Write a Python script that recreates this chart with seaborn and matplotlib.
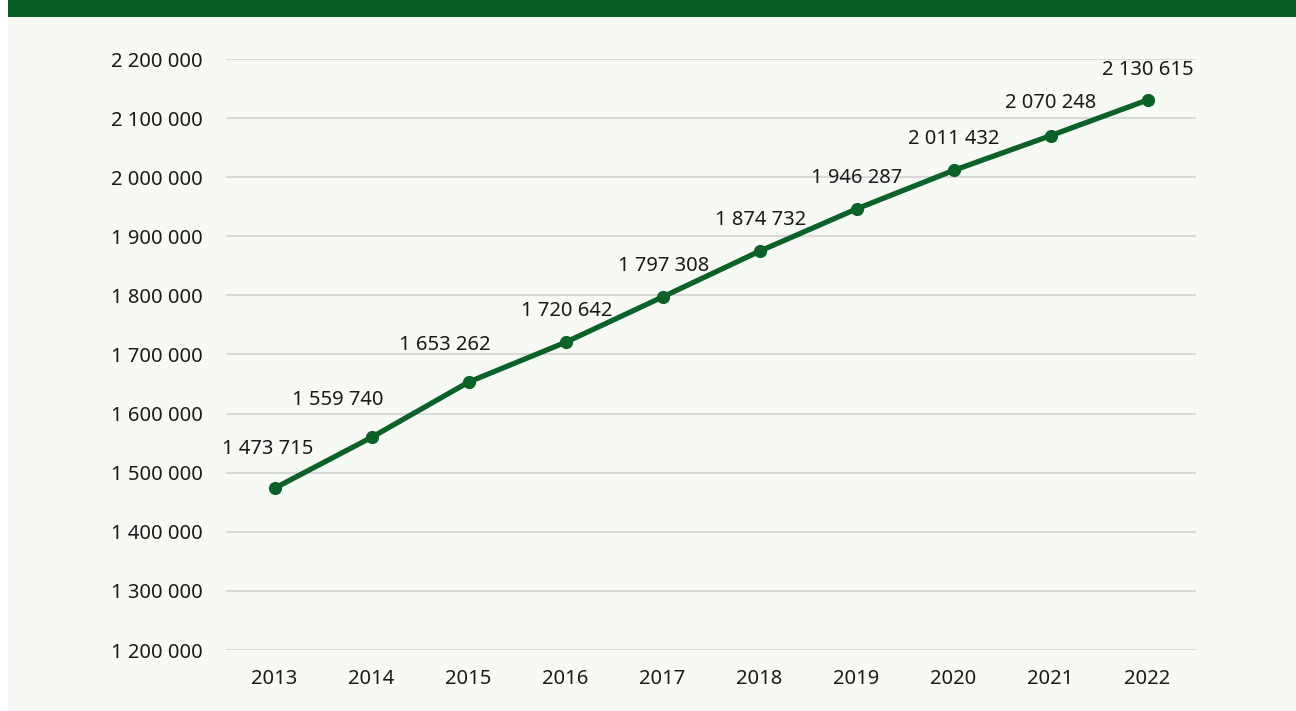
import matplotlib
matplotlib.use('Agg')
import matplotlib.pyplot as plt
import seaborn as sns
import pandas as pd
from matplotlib.patches import Rectangle
from matplotlib.ticker import FuncFormatter

years = ['2013', '2014', '2015', '2016', '2017', '2018', '2019', '2020', '2021', '2022']
values = [1473715, 1559740, 1653262, 1720642, 1797308, 1874732, 1946287, 2011432, 2070248, 2130615]

# label offsets in pixels (dx, dy)
label_dx = [-7, -34, -24, 1, 1, 1, 0, 0, 0, 0]
label_dy = [39, 37, 37, 31, 31, 31, 31, 31, 33, 30]

bg = '#f7f9f5'
green = '#0b6128'

sns.set_style("white")
plt.rcParams['font.family'] = ['Noto Sans', 'DejaVu Sans']

df = pd.DataFrame({'year': years, 'value': values})

fig = plt.figure(figsize=(12.96, 7.11), dpi=100, facecolor=bg)
fig.patches.append(Rectangle((0, 0), 8 / 1296, 1, transform=fig.transFigure,
                             facecolor='white', edgecolor='none', zorder=0))
fig.patches.append(Rectangle((8 / 1296, 1 - 17 / 711), 1, 17 / 711, transform=fig.transFigure,
                             facecolor='#075e22', edgecolor='none', zorder=1))

ax = fig.add_axes([226 / 1296, 61 / 711, 970 / 1296, 591 / 711])
ax.set_facecolor(bg)

sns.lineplot(data=df, x='year', y='value', ax=ax, color=green, linewidth=3.8,
             marker='o', markersize=9.5, markeredgewidth=0, sort=False, zorder=3)

ax.set_xlim(-0.5, 9.5)
ax.set_ylim(1200000, 2200000)
ax.set_yticks(range(1200000, 2200001, 100000))
ax.yaxis.set_major_formatter(FuncFormatter(lambda v, p: f'{int(v):,}'.replace(',', ' ')))
ax.grid(True, axis='y', color='#d9d9d9', linewidth=1.5)
ax.grid(False, axis='x')
ax.set_axisbelow(True)
for s in ax.spines.values():
    s.set_visible(False)
ax.tick_params(axis='both', length=0, labelsize=14.5, colors='#1a1a1a')
ax.tick_params(axis='y', pad=17)
ax.tick_params(axis='x', pad=14)
ax.set_xlabel('')
ax.set_ylabel('')

for i, v in enumerate(values):
    ax.annotate(f'{v:,}'.replace(',', ' '), xy=(i, v),
                xytext=(label_dx[i], label_dy[i]), textcoords='offset pixels',
                ha='center', va='center', fontsize=14.5, color='#1a1a1a')

plt.savefig('out.png', dpi=100, facecolor=bg)
